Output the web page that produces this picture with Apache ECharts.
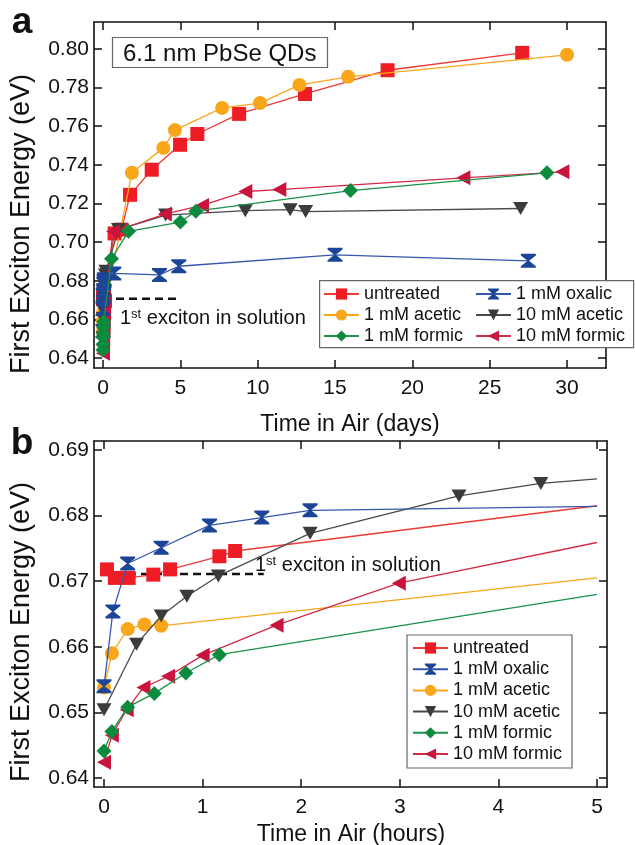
<!DOCTYPE html>
<html><head><meta charset="utf-8">
<script src="https://cdn.jsdelivr.net/npm/echarts@6/dist/echarts.min.js"></script>
<style>html,body{margin:0;padding:0;background:#fff}#c{width:635px;height:845px}</style>
</head><body><div id="c"></div>
<script>
// ---------- Panel b data (time in hours) ----------
const hUntreated = [[0.03,0.6718],[0.11,0.6705],[0.25,0.6705],[0.5,0.671],[0.67,0.6718],[1.17,0.6738],[1.33,0.6746]];
const hOxalic    = [[0,0.654],[0.09,0.6654],[0.24,0.6727],[0.58,0.6751],[1.07,0.6785],[1.6,0.6797],[2.09,0.6808]];
const hAcetic1   = [[0,0.6538],[0.08,0.659],[0.24,0.6627],[0.41,0.6634],[0.58,0.6632]];
const hAcetic10  = [[0,0.6504],[0.33,0.6604],[0.58,0.6647],[0.84,0.6677],[1.16,0.6708],[2.09,0.6773],[3.6,0.683],[4.43,0.6849]];
const hFormic1   = [[0,0.6441],[0.08,0.6471],[0.24,0.6508],[0.51,0.6529],[0.83,0.656],[1.17,0.6588]];
const hFormic10  = [[0,0.6424],[0.08,0.6465],[0.23,0.6504],[0.4,0.6538],[0.65,0.6555],[1.0,0.6587],[1.75,0.6633],[2.99,0.6697]];
// value of each curve where it leaves the 5 h window (order: untreated, oxalic, acetic1, acetic10, formic1, formic10)
const hEndValues = [0.6815, 0.6814, 0.6705, 0.6856, 0.668, 0.6759];

// ---------- Panel a data (time in days, beyond the first hours) ----------
const dUntreated = [[0.75,0.7045],[1.2,0.7065],[1.75,0.7245],[3.15,0.7375],[4.98,0.7504],[6.1,0.756],[8.8,0.7664],[13.06,0.7767],[18.4,0.789],[27.1,0.798]];
const dOxalic    = [[0.7,0.6838],[3.65,0.683],[4.9,0.6875],[15.0,0.6934],[27.5,0.6903]];
const dAcetic1   = [[1.87,0.7359],[3.9,0.7488],[4.65,0.758],[7.7,0.7695],[10.15,0.772],[12.7,0.7814],[15.85,0.7856],[30,0.797]];
const dAcetic10  = [[1.0,0.7065],[4.05,0.714],[9.2,0.7163],[12.1,0.7168],[13.1,0.7158],[27,0.7174]];
const dFormic1   = [[0.55,0.6914],[1.65,0.7056],[5.0,0.7104],[6.0,0.716],[16,0.7267],[28.7,0.7359]];
const dFormic10  = [[0.65,0.7055],[4.0,0.7145],[6.4,0.719],[9.2,0.7262],[11.4,0.7272],[23.3,0.7333],[29.7,0.7364]];

// "1st exciton in solution" reference lines
const solutionA = [[0,0.6707],[5,0.6707]];
const solutionB = [[-0.02,0.6711],[1.62,0.6711]];

// ticks
const xTicksA = [0,5,10,15,20,25,30];
const yTicksA = [0.64,0.66,0.68,0.70,0.72,0.74,0.76,0.78,0.80];
const xTicksB = [0,1,2,3,4,5];
const yTicksB = [0.64,0.65,0.66,0.67,0.68,0.69];

const names = ['untreated','1 mM oxalic','1 mM acetic','10 mM acetic','1 mM formic','10 mM formic'];
const hoursSets = [hUntreated,hOxalic,hAcetic1,hAcetic10,hFormic1,hFormic10];
const daysSets  = [dUntreated,dOxalic,dAcetic1,dAcetic10,dFormic1,dFormic10];

const FONT = '"Liberation Sans",Arial,Helvetica,sans-serif';
const BOWTIE = 'path://M0,0L12,0L12,1.6L6.6,6.5L12,11.4L12,13L0,13L0,11.4L5.4,6.5L0,1.6Z';

const styles = [
  {color:'#ee1d25', line:'#ef3b36', symbol:'rect', size:14, rot:0},
  {color:'#1c4598', line:'#3556ad', symbol:BOWTIE, size:[15,14], rot:0},
  {color:'#f9a61b', line:'#f9a61b', symbol:'circle', size:14, rot:0},
  {color:'#3b3b3b', line:'#4a4a4a', symbol:'triangle', size:[15,13], rot:180},
  {color:'#0c8b3f', line:'#1b9248', symbol:'diamond', size:[15,15], rot:0},
  {color:'#c9153d', line:'#d42b45', symbol:'triangle', size:[15,14], rot:90}
];
// drawing order (bottom to top)
const drawOrder = [0,2,3,5,1,4];

function xAxis(grid, min, max, ticks, pos, label) {
  return {
    type:'value', gridIndex:grid, position:pos, min:min, max:max,
    axisLine:{show:true, onZero:false, lineStyle:{color:'#111', width:1.6}},
    axisTick:{show:true, inside:true, length:8, customValues:ticks, lineStyle:{color:'#111', width:1.5}},
    axisLabel:{show:label, customValues:ticks, margin:10, fontSize:21, fontFamily:FONT, color:'#111'},
    splitLine:{show:false}
  };
}
function yAxis(grid, min, max, ticks, pos, label) {
  return {
    type:'value', gridIndex:grid, position:pos, min:min, max:max,
    axisLine:{show:true, onZero:false, lineStyle:{color:'#111', width:1.6}},
    axisTick:{show:true, inside:true, length:8, customValues:ticks, lineStyle:{color:'#111', width:1.5}},
    axisLabel:{show:label, customValues:ticks, margin:5, fontSize:21, fontFamily:FONT, color:'#111',
      formatter:v => v.toFixed(2)},
    splitLine:{show:false}
  };
}

const series = [];
drawOrder.forEach(i => {
  const s = styles[i];
  const base = {
    type:'line', name:names[i], symbol:s.symbol, symbolSize:s.size, symbolRotate:s.rot,
    itemStyle:{color:s.color, opacity:1}, lineStyle:{color:s.line, width:1.3},
    emphasis:{disabled:true}, z:2+drawOrder.indexOf(i)
  };
  // panel a: first hours converted to days, then the day measurements
  const aData = hoursSets[i].map(p => [p[0]/24, p[1]]).concat(daysSets[i]);
  series.push(Object.assign({}, base, {xAxisIndex:0, yAxisIndex:0, data:aData}));
  // panel b: hour measurements, then the curve end at 5 h (no marker)
  const bData = hoursSets[i].map(p => p.slice()).concat([{value:[xTicksB[xTicksB.length-1], hEndValues[i]], symbol:'none'}]);
  series.push(Object.assign({}, base, {xAxisIndex:2, yAxisIndex:2, data:bData}));
});
series.push({type:'line', name:'solA', xAxisIndex:0, yAxisIndex:0, data:solutionA, symbol:'none',
  lineStyle:{color:'#111', width:2.5, type:[8,5]}, z:1, silent:true});
series.push({type:'line', name:'solB', xAxisIndex:2, yAxisIndex:2, data:solutionB, symbol:'none',
  lineStyle:{color:'#111', width:2.5, type:[8,5]}, z:1, silent:true});

const legendText = {fontSize:18, fontFamily:FONT, color:'#111', lineHeight:14};
const legendCommon = {orient:'vertical', itemGap:3, itemWidth:35, itemHeight:14, selectedMode:false, textStyle:legendText, z:20};
const option = {
  animation:false,
  backgroundColor:'#fff',
  grid:[
    {left:94, right:29, top:22, height:346, containLabel:false},
    {left:94, right:28, top:441, height:346, containLabel:false}
  ],
  xAxis:[
    xAxis(0, -0.582, 32.52, xTicksA, 'bottom', true),
    xAxis(0, -0.582, 32.52, xTicksA, 'top', false),
    xAxis(1, -0.1014, 5.101, xTicksB, 'bottom', true),
    xAxis(1, -0.1014, 5.101, xTicksB, 'top', false)
  ],
  yAxis:[
    yAxis(0, 0.63482, 0.81398, yTicksA, 'left', true),
    yAxis(0, 0.63482, 0.81398, yTicksA, 'right', false),
    yAxis(1, 0.63863, 0.69137, yTicksB, 'left', true),
    yAxis(1, 0.63863, 0.69137, yTicksB, 'right', false)
  ],
  title:{text:'6.1 nm PbSe QDs', left:112, top:37, padding:[3,11,0,11], borderColor:'#666', borderWidth:1.2,
    textStyle:{fontSize:24, fontWeight:'normal', fontFamily:FONT, color:'#111', lineHeight:28}},
  legend:[
    Object.assign({}, legendCommon, {left:319, top:280, padding:[5,0,0,4], data:['untreated','1 mM acetic','1 mM formic']}),
    Object.assign({}, legendCommon, {left:475, top:280, padding:[5,0,0,0], data:['1 mM oxalic','10 mM acetic','10 mM formic']}),
    Object.assign({}, legendCommon, {left:407, top:635, padding:[4,10,5,5], itemGap:3.2, borderColor:'#666', borderWidth:1.2,
      backgroundColor:'#fff', data:names.slice()})
  ],
  graphic:[
    {type:'rect', left:319, top:280, z:15, shape:{width:314, height:67}, style:{fill:'#fff', stroke:'#666', lineWidth:1.2}},
    {type:'text', x:22, y:23, style:{text:'a', fontSize:37, fontWeight:'bold', fontFamily:FONT, fill:'#111', align:'center', verticalAlign:'middle'}},
    {type:'text', x:22, y:444, style:{text:'b', fontSize:37, fontWeight:'bold', fontFamily:FONT, fill:'#111', align:'center', verticalAlign:'middle'}},
    {type:'text', x:22, y:224, rotation:Math.PI/2, style:{text:'First Exciton Energy (eV)', fontSize:27, fontFamily:FONT, fill:'#111', align:'center', verticalAlign:'middle'}},
    {type:'text', x:22, y:632, rotation:Math.PI/2, style:{text:'First Exciton Energy (eV)', fontSize:27, fontFamily:FONT, fill:'#111', align:'center', verticalAlign:'middle'}},
    {type:'text', x:350, y:425, style:{text:'Time in Air (days)', fontSize:23, fontFamily:FONT, fill:'#111', align:'center', verticalAlign:'middle'}},
    {type:'text', x:351, y:835, style:{text:'Time in Air (hours)', fontSize:23, fontFamily:FONT, fill:'#111', align:'center', verticalAlign:'middle'}},
    {type:'text', x:120, y:318, z:50, style:{text:'1{sup|st} exciton in solution', fontSize:20, fontFamily:FONT, fill:'#111', verticalAlign:'middle',
      rich:{sup:{fontSize:13, fontFamily:FONT, verticalAlign:'top', lineHeight:20, padding:[0,0,9,0]}}}},
    {type:'text', x:255, y:565, z:50, style:{text:'1{sup|st} exciton in solution', fontSize:20, fontFamily:FONT, fill:'#111', verticalAlign:'middle',
      rich:{sup:{fontSize:13, fontFamily:FONT, verticalAlign:'top', lineHeight:20, padding:[0,0,9,0]}}}}
  ],
  series:series
};
const chart = echarts.init(document.getElementById('c'), null, {renderer:'canvas'});
chart.setOption(option);
</script></body></html>
